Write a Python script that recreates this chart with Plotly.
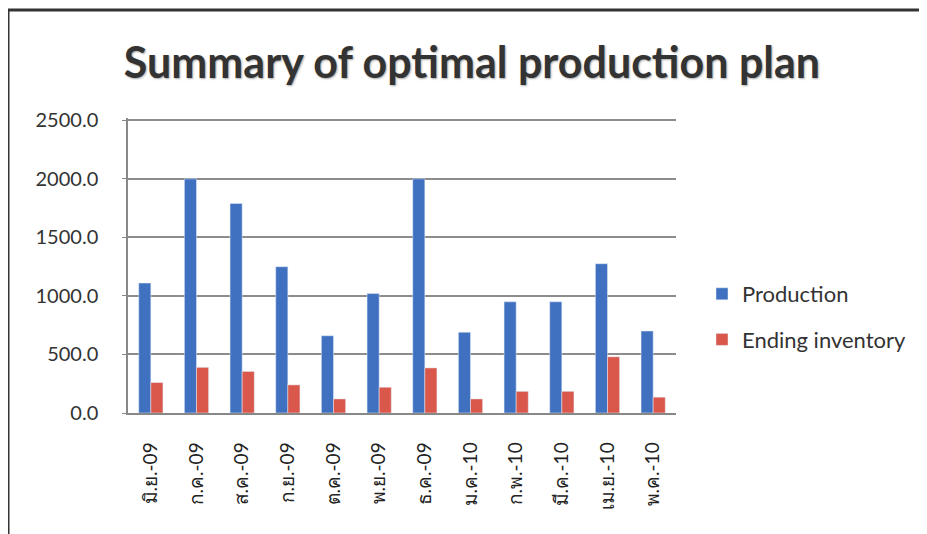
import plotly.graph_objects as go

months = ["มิ.ย.-09", "ก.ค.-09", "ส.ค.-09", "ก.ย.-09", "ต.ค.-09", "พ.ย.-09",
          "ธ.ค.-09", "ม.ค.-10", "ก.พ.-10", "มี.ค.-10", "เม.ย.-10", "พ.ค.-10"]
production = [1110, 2000, 1790, 1250, 660, 1020, 2000, 690, 950, 950, 1275, 700]
ending_inventory = [260, 390, 355, 240, 120, 220, 385, 120, 185, 185, 480, 135]
y_ticks = [0, 500, 1000, 1500, 2000, 2500]

OFF = 8  # page body margin
W, H = 927 - OFF, 534 - OFF
L, R, T, B = 128 - OFF, 676 - OFF, 118 - OFF, 413 - OFF
pw, ph = R - L, B - T


def px(x):
    return (x - OFF - L) / pw


def py(y):
    return (B - (y - OFF)) / ph


fig = go.Figure()
fig.add_trace(go.Bar(x=months, y=production, name="Production",
                     marker_color="#3F71C0", legendgroup="a"))
fig.add_trace(go.Bar(x=months, y=ending_inventory, name="Ending inventory",
                     marker_color="#D9574B", legendgroup="b"))

font_family = "Lato, 'Open Sans', sans-serif"

fig.update_layout(
    width=W, height=H,
    margin=dict(l=L, r=W - R, t=T, b=H - B),
    paper_bgcolor="white", plot_bgcolor="white",
    barmode="group", bargap=0.47, bargroupgap=0,
    font=dict(family=font_family, color="#333333"),
    title=dict(text="<b>Summary of optimal production plan</b>",
               x=(472 - OFF) / W, xanchor="center", y=1 - (63 - OFF) / H, yanchor="middle",
               font=dict(size=43, color="#333333", family=font_family,
                         shadow="1px 1px 2px #aaaaaa")),
    legend=dict(x=px(702), xanchor="left", y=py(317), yanchor="middle",
                font=dict(size=22, color="#333333"),
                tracegroupgap=14, traceorder="grouped",
                bgcolor="rgba(0,0,0,0)"),
    xaxis=dict(tickangle=-90, tickfont=dict(size=19, color="#222222"),
               showline=True, linecolor="#888888", linewidth=1.5,
               showgrid=False, ticks="", ticklabelstandoff=20),
    yaxis=dict(range=[0, 2520], tickvals=y_ticks, tickformat=".1f",
               tickfont=dict(size=20, color="#333333"),
               showgrid=True, gridcolor="#8c8c8c", gridwidth=1.5,
               showline=True, linecolor="#888888", linewidth=1.5,
               ticks="outside", ticklen=4, tickcolor="#888888",
               ticklabelstandoff=20, zeroline=False),
    shapes=[
        dict(type="line", xref="paper", yref="paper",
             x0=px(8), y0=py(10), x1=px(940), y1=py(10),
             line=dict(color="#333333", width=3)),
        dict(type="line", xref="paper", yref="paper",
             x0=px(8), y0=py(10), x1=px(8), y1=py(545),
             line=dict(color="#333333", width=3)),
    ],
)

fig.write_html("out.html")
